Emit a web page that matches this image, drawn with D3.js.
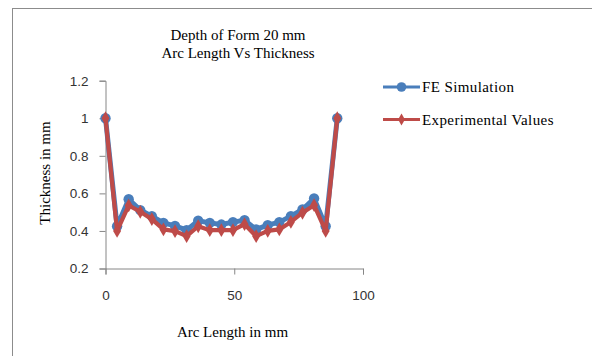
<!DOCTYPE html>
<html>
<head>
<meta charset="utf-8">
<script src="https://cdn.jsdelivr.net/npm/d3@7"></script>
<style>
  html, body { margin: 0; padding: 0; background: #fff; }
  svg { display: block; }
</style>
</head>
<body>
<svg id="chart" width="592" height="356"></svg>
<script>
// Arc length positions (mm) and measured thickness (mm)
const arcLength = [0, 4.5, 9, 13.5, 18, 22.5, 27, 31.5, 36, 40.5, 45, 49.5, 54, 58.5, 63, 67.5, 72, 76.5, 81, 85.5, 90];
const feSimulation = [1.0, 0.425, 0.569, 0.511, 0.479, 0.443, 0.427, 0.404, 0.454, 0.443, 0.434, 0.447, 0.457, 0.408, 0.431, 0.447, 0.479, 0.514, 0.573, 0.425, 1.0];
const experimental = [1.0, 0.40, 0.536, 0.502, 0.463, 0.408, 0.399, 0.372, 0.425, 0.404, 0.404, 0.404, 0.436, 0.372, 0.40, 0.408, 0.448, 0.497, 0.537, 0.40, 1.0];
const xTicks = [0, 50, 100];
const yTicks = [0.2, 0.4, 0.6, 0.8, 1.0, 1.2];
const titleLines = ["Depth of Form 20 mm", "Arc Length Vs Thickness"];
const seriesNames = ["FE Simulation", "Experimental  Values"];

const svg = d3.select("#chart");
const serif = "'Liberation Serif', 'Times New Roman', serif";
const sans = "'Liberation Sans', Arial, sans-serif";

// slight softening of the plotted series
const defs = svg.append("defs");
defs.append("filter").attr("id", "soft")
  .append("feGaussianBlur").attr("stdDeviation", 0.5);

// outer chart frame
svg.append("rect")
  .attr("x", 12.5).attr("y", 8.5)
  .attr("width", 620).attr("height", 400)
  .attr("fill", "#fff").attr("stroke", "#8c8c8c").attr("stroke-width", 1);

const x = d3.scaleLinear().domain([0, 100]).range([105.5, 363]);
const y = d3.scaleLinear().domain([0.2, 1.2]).range([268.5, 80.7]);

const axisColor = "#868686";

// x axis
const gx = svg.append("g")
  .attr("transform", `translate(0,${y(0.2)})`)
  .call(d3.axisBottom(x).tickValues(xTicks).tickSize(6).tickPadding(16).tickFormat(d3.format("d")));
gx.select(".domain").attr("stroke", axisColor);
gx.selectAll(".tick line").attr("stroke", axisColor);
gx.selectAll(".tick text")
  .attr("font-family", sans).attr("font-size", 13.5).attr("fill", "#333");

// y axis
const gy = svg.append("g")
  .attr("transform", `translate(${x(0)},0)`)
  .call(d3.axisLeft(y).tickValues(yTicks).tickSize(6).tickPadding(11).tickFormat(d => d3.format("")(+d.toFixed(1))));
gy.select(".domain").attr("stroke", axisColor);
gy.selectAll(".tick line").attr("stroke", axisColor);
gy.selectAll(".tick text")
  .attr("font-family", sans).attr("font-size", 13.5).attr("fill", "#333");

// titles
svg.append("g").selectAll("text").data(titleLines).join("text")
  .attr("x", 238).attr("y", (d, i) => 40 + i * 18)
  .attr("text-anchor", "middle")
  .attr("font-family", serif).attr("font-size", 15).attr("fill", "#000")
  .text(d => d);

svg.append("text")
  .attr("x", 232.5).attr("y", 337)
  .attr("text-anchor", "middle")
  .attr("font-family", serif).attr("font-size", 15).attr("fill", "#000")
  .text("Arc Length in mm");

svg.append("text")
  .attr("transform", "translate(50,173) rotate(-90)")
  .attr("text-anchor", "middle")
  .attr("font-family", serif).attr("font-size", 15).attr("fill", "#000")
  .text("Thickness in mm");

const blue = "#4a7ebb";
const red = "#be4b48";

const line = d3.line().x((d, i) => x(arcLength[i])).y(d => y(d));
const plot = svg.append("g").attr("filter", "url(#soft)");

// FE simulation series
plot.append("path").datum(feSimulation)
  .attr("d", line).attr("fill", "none")
  .attr("stroke", blue).attr("stroke-width", 5).attr("stroke-linejoin", "round");
plot.append("g").selectAll("circle").data(feSimulation).join("circle")
  .attr("cx", (d, i) => x(arcLength[i])).attr("cy", d => y(d))
  .attr("r", 5.2).attr("fill", blue);

// experimental series
plot.append("path").datum(experimental)
  .attr("d", line).attr("fill", "none")
  .attr("stroke", red).attr("stroke-width", 4.2).attr("stroke-linejoin", "round");
const diamond = d3.symbol().type(d3.symbolDiamond).size(55);
plot.append("g").selectAll("path").data(experimental).join("path")
  .attr("transform", (d, i) => `translate(${x(arcLength[i])},${y(d)})`)
  .attr("d", diamond).attr("fill", red);

// legend
const legend = svg.append("g");
const legendRows = [
  { name: seriesNames[0], color: blue, marker: "circle", y: 87 },
  { name: seriesNames[1], color: red, marker: "diamond", y: 119.5 }
];
legendRows.forEach(r => {
  legend.append("line")
    .attr("x1", 383).attr("x2", 420).attr("y1", r.y).attr("y2", r.y)
    .attr("stroke", r.color).attr("stroke-width", 3);
  if (r.marker === "circle") {
    legend.append("circle").attr("cx", 401.5).attr("cy", r.y).attr("r", 4.8).attr("fill", r.color);
  } else {
    legend.append("path").attr("transform", `translate(401.5,${r.y})`)
      .attr("d", d3.symbol().type(d3.symbolDiamond).size(40)).attr("fill", r.color);
  }
  legend.append("text")
    .attr("x", 422).attr("y", r.y + 5)
    .attr("font-family", serif).attr("font-size", 15).attr("fill", "#000")
    .attr("letter-spacing", 0.4)
    .text(r.name);
});
</script>
</body>
</html>
